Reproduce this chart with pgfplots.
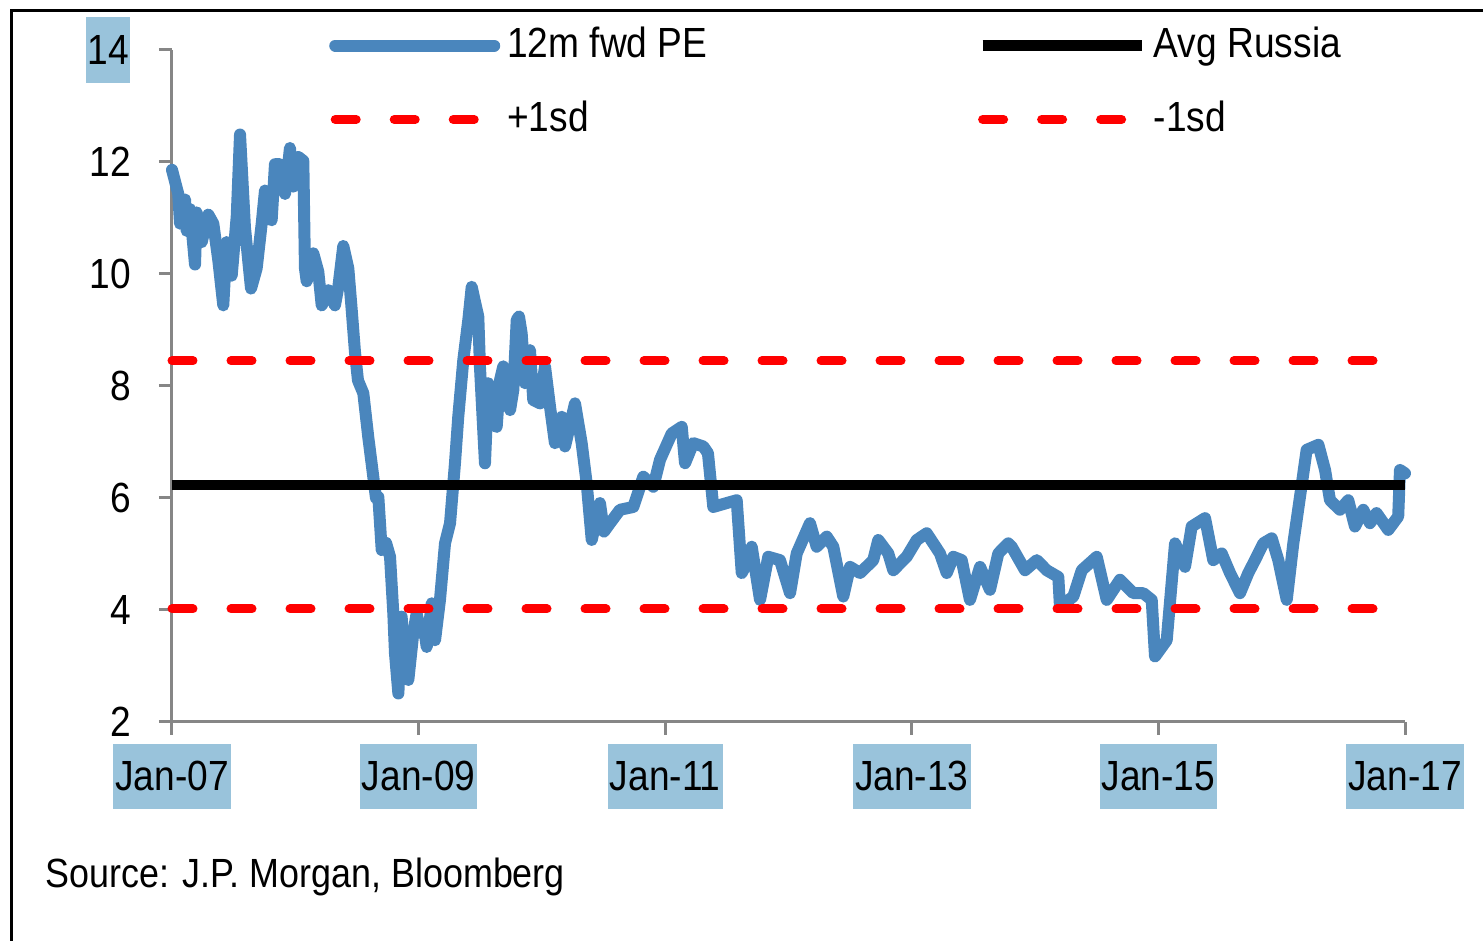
\documentclass[border=0pt]{standalone}
\usepackage{fontspec}
\setmainfont{Liberation Sans}[FakeStretch=0.88]
\usepackage{pgfplots}
\usepackage{pgfplotstable}
\pgfplotsset{compat=1.18}
\definecolor{peblue}{RGB}{74,134,189}
\definecolor{sdred}{RGB}{255,0,0}
\definecolor{axgray}{RGB}{134,134,134}
\definecolor{hl}{RGB}{153,195,219}

% months since Jan-07, 12m fwd PE
\pgfplotstableread{
m pe
0 11.86
0.61 11.43
0.78 10.9
1.27 11.33
1.43 10.77
1.75 11.16
2.24 10.17
2.40 11.1
2.89 10.57
3.53 11.06
4.02 10.9
4.51 10.24
4.99 9.44
5.32 10.57
5.81 9.97
6.30 11.03
6.62 12.49
7.10 10.83
7.69 9.74
8.24 10.1
8.73 10.9
9.05 11.49
9.70 10.96
10.02 11.96
10.51 11.96
11.00 11.43
11.48 12.25
11.81 11.56
12.29 12.09
12.78 12.02
12.94 10.1
13.11 9.87
13.75 10.37
14.24 10.04
14.57 9.44
15.21 9.71
15.86 9.44
16.19 9.77
16.67 10.5
17.16 10.1
17.49 9.36
17.81 8.6
18.10 8.1
18.62 7.87
19.10 7.09
19.59 6.38
19.85 6.0
20.08 6.02
20.41 5.07
20.83 5.2
21.22 4.95
21.54 3.94
21.70 3.23
22.03 2.51
22.35 3.88
22.68 3.0
23.00 2.75
23.48 3.58
23.81 3.94
24.14 3.6
24.46 3.76
24.79 3.34
25.28 4.12
25.60 3.46
26.08 4.18
26.57 5.19
27.06 5.55
27.54 6.62
27.86 7.45
28.35 8.46
28.84 9.18
29.17 9.77
29.49 9.5
29.81 9.24
29.97 8.35
30.14 7.75
30.46 6.62
30.78 8.05
31.14 7.6
31.60 7.27
31.92 8.1
32.24 8.35
32.57 7.9
32.90 7.57
33.22 7.93
33.55 9.18
33.77 9.24
34.03 8.94
34.36 8.05
34.84 8.64
35.16 7.75
35.82 7.69
36.30 8.35
36.79 7.63
37.27 6.98
37.93 7.45
38.25 6.92
39.22 7.69
39.87 6.98
40.36 6.26
40.85 5.25
41.65 5.91
42.04 5.4
42.63 5.55
43.60 5.79
44.90 5.84
45.87 6.38
46.84 6.2
47.49 6.68
48.63 7.15
49.61 7.27
49.93 6.62
50.73 6.98
51.71 6.92
52.16 6.8
52.68 5.84
53.99 5.91
54.96 5.96
55.45 4.66
56.09 4.89
56.42 5.13
57.23 4.18
58.03 4.95
59.17 4.89
60.15 4.3
60.80 5.01
62.09 5.55
62.74 5.13
63.72 5.31
64.36 5.13
65.33 4.24
65.99 4.77
66.96 4.66
68.25 4.89
68.74 5.25
69.71 5.01
70.20 4.71
71.50 4.95
72.48 5.25
73.45 5.37
74.74 5.01
75.40 4.66
76.04 4.95
76.86 4.89
77.66 4.18
78.64 4.77
79.61 4.36
80.42 5.01
81.39 5.19
81.72 5.13
83.02 4.71
84.16 4.89
85.13 4.71
86.26 4.59
86.42 4.06
87.72 4.24
88.54 4.71
90.00 4.95
90.97 4.18
92.26 4.54
93.56 4.3
94.53 4.3
95.35 4.18
95.67 3.17
96.81 3.46
97.62 5.19
98.59 4.77
99.24 5.49
100.54 5.64
101.34 4.89
102.16 5.01
102.97 4.66
103.94 4.3
104.75 4.66
105.40 4.89
106.21 5.19
107.03 5.28
107.67 4.89
108.49 4.18
109.13 5.19
109.78 6.02
110.43 6.86
111.57 6.95
112.22 6.5
112.70 5.96
113.67 5.79
114.48 5.96
115.13 5.49
115.94 5.79
116.59 5.55
117.23 5.73
118.37 5.43
119.34 5.67
119.51 6.5
120.00 6.44
}\petable

\begin{document}
\fontsize{12}{14}\selectfont
\begin{tikzpicture}
\useasboundingbox (0,0) rectangle (148.3mm,94.1mm);
\draw[line width=0.3mm] (1.1mm,0) -- (1.1mm,93.0mm) -- (148.3mm,93.0mm);
\begin{axis}[
    at={(17.2mm,21.9mm)}, anchor=south west,
    scale only axis,
    width=123.3mm, height=67.2mm,
    xmin=0, xmax=120, ymin=2, ymax=14,
    clip=false,
    axis lines*=left,
    axis line style={axgray, line width=0.3mm, -},
    tick style={axgray, line width=0.3mm},
    tick align=outside,
    major tick length=1.3mm,
    xtick={0,24,48,72,96,120},
    xticklabels={Jan-07,Jan-09,Jan-11,Jan-13,Jan-15,Jan-17},
    ytick={2,4,6,8,10,12},
    extra y ticks={14},
    extra y tick style={yticklabel style={fill=hl, inner xsep=0.15mm,
        inner ysep=0pt, minimum height=6.6mm, xshift=-1.5mm}},
    /pgf/number format/assume math mode=true,
    tick label style={font=\fontsize{12}{14}\selectfont},
    yticklabel style={anchor=east, xshift=-1.3mm},
    xticklabel style={fill=hl, inner xsep=0.2mm, inner ysep=0pt,
        minimum height=6.5mm, anchor=north, yshift=-0.8mm},
    legend columns=2,
    legend cell align=left,
    legend image code/.code={\draw[#1] (0mm,0mm) -- (15.9mm,0mm);},
    legend style={draw=none, fill=none, at={(0.1184,1.056)}, anchor=north west,
        font=\fontsize{12}{14}\selectfont, row sep=2.3mm,
        /tikz/every even column/.append style={column sep=26.3mm}},
]
\addplot[peblue, line width=1.2mm, line join=round, line cap=round] table[x=m, y=pe] {\petable};
\addlegendentry{12m fwd PE}
\addplot[black, line width=1.05mm] coordinates {(0,6.23) (120,6.23)};
\addlegendentry{Avg Russia}
\addplot[sdred, line width=0.9mm, line cap=round, dash pattern=on 2.1mm off 3.8mm] coordinates {(0,8.45) (117.8,8.45)};
\addlegendentry{+1sd}
\addplot[sdred, line width=0.9mm, line cap=round, dash pattern=on 2.1mm off 3.8mm] coordinates {(0,4.02) (117.8,4.02)};
\addlegendentry{-1sd}
\end{axis}
\node[anchor=base west, inner sep=0pt, font=\fontsize{11.6}{14}\selectfont] at (4.5mm,5.3mm) {Source: J.P. Morgan, Bloomberg};
\end{tikzpicture}
\end{document}
